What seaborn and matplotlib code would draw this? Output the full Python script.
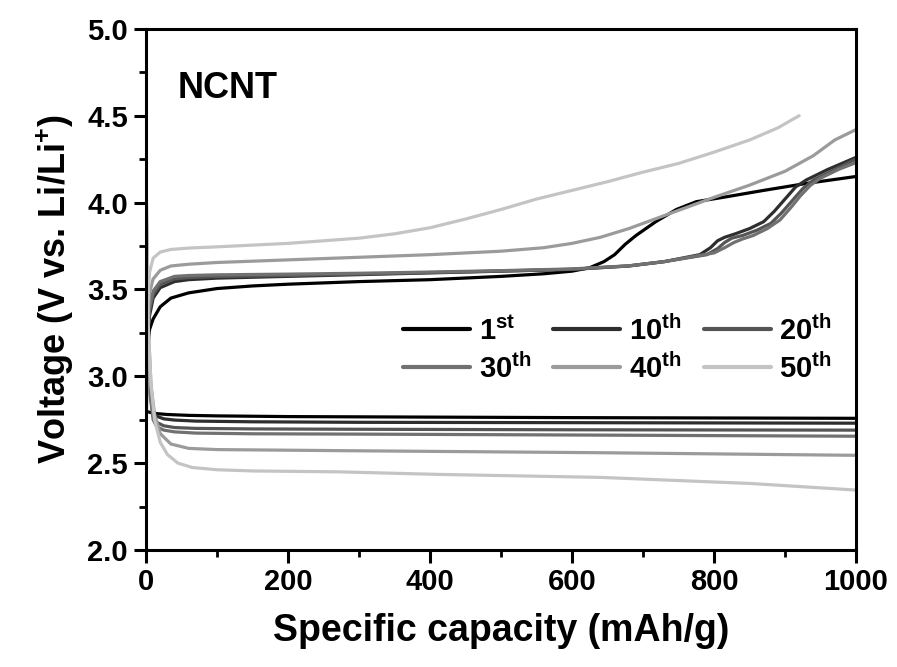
import numpy as np
import pandas as pd
import matplotlib
matplotlib.use("Agg")
import matplotlib.pyplot as plt
from matplotlib.ticker import MultipleLocator, FormatStrFormatter
import seaborn as sns

# Galvanostatic charge/discharge profiles of the NCNT cathode
cycles = ["1st", "10th", "20th", "30th", "40th", "50th"]
labels = [r"$\mathbf{1^{st}}$", r"$\mathbf{10^{th}}$", r"$\mathbf{20^{th}}$",
          r"$\mathbf{30^{th}}$", r"$\mathbf{40^{th}}$", r"$\mathbf{50^{th}}$"]
colors = ["#000000", "#2e2e2e", "#555555", "#717171", "#9b9b9b", "#c4c4c4"]

# charge branches (capacity in mAh/g, voltage in V)
chg_1_cap = [0, 2, 5, 10, 20, 35, 60, 100, 150, 200, 300, 400, 500, 560, 600, 625, 645,
             660, 675, 690, 718, 747, 775, 813, 870, 930, 1000]
chg_1_v = [2.85, 3.15, 3.27, 3.33, 3.40, 3.45, 3.48, 3.505, 3.52, 3.53, 3.545, 3.556, 3.575,
           3.59, 3.605, 3.625, 3.66, 3.70, 3.76, 3.81, 3.89, 3.96, 4.005, 4.03, 4.07, 4.11, 4.15]

chg_10_cap = [0, 2, 5, 10, 20, 40, 60, 100, 200, 300, 400, 500, 600, 680, 730, 780, 795, 805,
              815, 830, 850, 870, 885, 900, 915, 930, 960, 1000]
chg_10_v = [2.75, 3.20, 3.35, 3.45, 3.51, 3.545, 3.556, 3.565, 3.575, 3.585, 3.595, 3.605,
            3.615, 3.635, 3.66, 3.70, 3.74, 3.78, 3.80, 3.82, 3.85, 3.89, 3.95, 4.02, 4.09,
            4.13, 4.19, 4.26]

chg_20_cap = [0, 2, 5, 10, 20, 40, 60, 100, 200, 300, 400, 500, 600, 680, 730, 790, 805, 815,
              825, 840, 860, 880, 895, 910, 925, 940, 970, 1000]
chg_20_v = [2.72, 3.22, 3.38, 3.47, 3.53, 3.56, 3.568, 3.574, 3.58, 3.588, 3.597, 3.606,
            3.616, 3.635, 3.66, 3.70, 3.735, 3.77, 3.795, 3.81, 3.84, 3.88, 3.94, 4.01, 4.08,
            4.13, 4.19, 4.25]

chg_30_cap = [0, 2, 5, 10, 20, 40, 60, 100, 200, 300, 400, 500, 600, 680, 730, 800, 815, 828,
              840, 855, 875, 893, 908, 922, 936, 950, 975, 1000]
chg_30_v = [2.68, 3.25, 3.40, 3.49, 3.545, 3.575, 3.58, 3.584, 3.588, 3.593, 3.60, 3.608,
            3.618, 3.636, 3.66, 3.71, 3.74, 3.77, 3.79, 3.81, 3.85, 3.90, 3.97, 4.04, 4.10,
            4.14, 4.19, 4.23]

chg_40_cap = [0, 2, 5, 10, 20, 35, 60, 100, 200, 300, 400, 500, 560, 600, 640, 680, 720, 760,
              800, 850, 900, 940, 970, 1000]
chg_40_v = [2.60, 3.30, 3.48, 3.56, 3.61, 3.635, 3.645, 3.655, 3.67, 3.685, 3.70, 3.72,
            3.74, 3.765, 3.80, 3.85, 3.91, 3.97, 4.03, 4.10, 4.18, 4.27, 4.36, 4.42]

chg_50_cap = [0, 2, 5, 10, 20, 35, 60, 100, 150, 200, 250, 300, 350, 400, 450, 500, 550, 600,
              650, 700, 750, 800, 850, 890, 920]
chg_50_v = [2.50, 3.40, 3.60, 3.68, 3.715, 3.73, 3.738, 3.745, 3.755, 3.765, 3.78, 3.795,
            3.82, 3.855, 3.905, 3.96, 4.02, 4.07, 4.12, 4.175, 4.225, 4.29, 4.36, 4.43, 4.50]

# discharge branches
dis_1_cap = [0, 3, 8, 15, 30, 60, 100, 200, 400, 600, 800, 1000]
dis_1_v = [2.80, 2.795, 2.79, 2.785, 2.78, 2.775, 2.772, 2.768, 2.765, 2.762, 2.76, 2.758]

dis_10_cap = [0, 2, 5, 10, 15, 25, 40, 70, 150, 300, 600, 1000]
dis_10_v = [3.95, 3.30, 2.95, 2.80, 2.77, 2.755, 2.748, 2.742, 2.738, 2.735, 2.733, 2.730]

dis_20_cap = [0, 2, 5, 10, 15, 25, 40, 70, 150, 300, 600, 1000]
dis_20_v = [4.05, 3.30, 2.93, 2.77, 2.735, 2.715, 2.705, 2.70, 2.697, 2.695, 2.692, 2.69]

dis_30_cap = [0, 2, 5, 10, 15, 25, 40, 70, 150, 300, 600, 1000]
dis_30_v = [4.10, 3.30, 2.92, 2.75, 2.71, 2.69, 2.68, 2.673, 2.669, 2.667, 2.662, 2.655]

dis_40_cap = [0, 3, 7, 12, 20, 35, 60, 100, 270, 640, 1000]
dis_40_v = [4.15, 3.30, 2.95, 2.78, 2.67, 2.61, 2.585, 2.578, 2.572, 2.56, 2.545]

dis_50_cap = [0, 3, 7, 12, 20, 30, 45, 65, 100, 150, 270, 414, 640, 851, 1000]
dis_50_v = [4.20, 3.30, 2.95, 2.75, 2.62, 2.55, 2.50, 2.475, 2.462, 2.455, 2.45, 2.435,
            2.418, 2.383, 2.345]

charge = [(chg_1_cap, chg_1_v), (chg_10_cap, chg_10_v), (chg_20_cap, chg_20_v),
          (chg_30_cap, chg_30_v), (chg_40_cap, chg_40_v), (chg_50_cap, chg_50_v)]
discharge = [(dis_1_cap, dis_1_v), (dis_10_cap, dis_10_v), (dis_20_cap, dis_20_v),
             (dis_30_cap, dis_30_v), (dis_40_cap, dis_40_v), (dis_50_cap, dis_50_v)]

frames = []
for cyc, (cc, cv), (dc, dv) in zip(cycles, charge, discharge):
    frames.append(pd.DataFrame({"capacity": cc, "voltage": cv, "cycle": cyc, "branch": "charge"}))
    frames.append(pd.DataFrame({"capacity": dc, "voltage": dv, "cycle": cyc, "branch": "discharge"}))
df = pd.concat(frames, ignore_index=True)

sns.set_style("ticks")
plt.rcParams["font.family"] = ["Liberation Sans", "DejaVu Sans"]
plt.rcParams["font.weight"] = "bold"
plt.rcParams["text.color"] = "black"
plt.rcParams["axes.labelcolor"] = "black"
plt.rcParams["xtick.color"] = "black"
plt.rcParams["ytick.color"] = "black"
plt.rcParams["axes.edgecolor"] = "black"
plt.rcParams["mathtext.fontset"] = "custom"
plt.rcParams["mathtext.rm"] = "Liberation Sans:bold"
plt.rcParams["mathtext.bf"] = "Liberation Sans:bold"
plt.rcParams["mathtext.it"] = "Liberation Sans:bold"

fig = plt.figure(figsize=(8.97, 6.67), dpi=100)
ax = fig.add_axes([0.1628, 0.1754, 0.7915, 0.7814])

sns.lineplot(data=df, x="capacity", y="voltage", hue="cycle", units="branch",
             estimator=None, sort=False, palette=dict(zip(cycles, colors)),
             hue_order=cycles, linewidth=2.3, ax=ax, legend=False)

ax.set_xlim(0, 1000)
ax.set_ylim(2.0, 5.0)
ax.xaxis.set_major_locator(MultipleLocator(200))
ax.xaxis.set_minor_locator(MultipleLocator(100))
ax.yaxis.set_major_locator(MultipleLocator(0.5))
ax.yaxis.set_minor_locator(MultipleLocator(0.25))
ax.yaxis.set_major_formatter(FormatStrFormatter("%.1f"))
ax.tick_params(which="major", direction="out", length=9, width=2.2, labelsize=21, pad=4,
               colors="black")
ax.tick_params(which="minor", direction="out", length=5, width=2.0, colors="black")
for lab in ax.get_xticklabels() + ax.get_yticklabels():
    lab.set_fontweight("bold")
for sp in ax.spines.values():
    sp.set_visible(True)
    sp.set_linewidth(2.2)
    sp.set_color("black")

ax.set_xlabel("Specific capacity (mAh/g)", fontsize=27, fontweight="bold", labelpad=12)
ax.set_ylabel(r"Voltage (V vs. Li/Li$^{\mathbf{+}}$)", fontsize=26, fontweight="bold", labelpad=8)

ax.text(0.045, 0.885, "NCNT", transform=ax.transAxes, fontsize=26, fontweight="bold",
        va="center", ha="left")

# legend: 3 columns, filled row by row
lines = {c: plt.Line2D([], [], color=col, lw=3.0) for c, col in zip(cycles, colors)}
order = [0, 3, 1, 4, 2, 5]
leg = ax.legend([lines[cycles[i]] for i in order], [labels[i] for i in order],
                ncol=3, loc="center left", bbox_to_anchor=(0.325, 0.385), frameon=False,
                fontsize=21, handlelength=2.3, columnspacing=0.75, handletextpad=0.3,
                labelspacing=0.25)

fig.savefig("out.png", dpi=100)
